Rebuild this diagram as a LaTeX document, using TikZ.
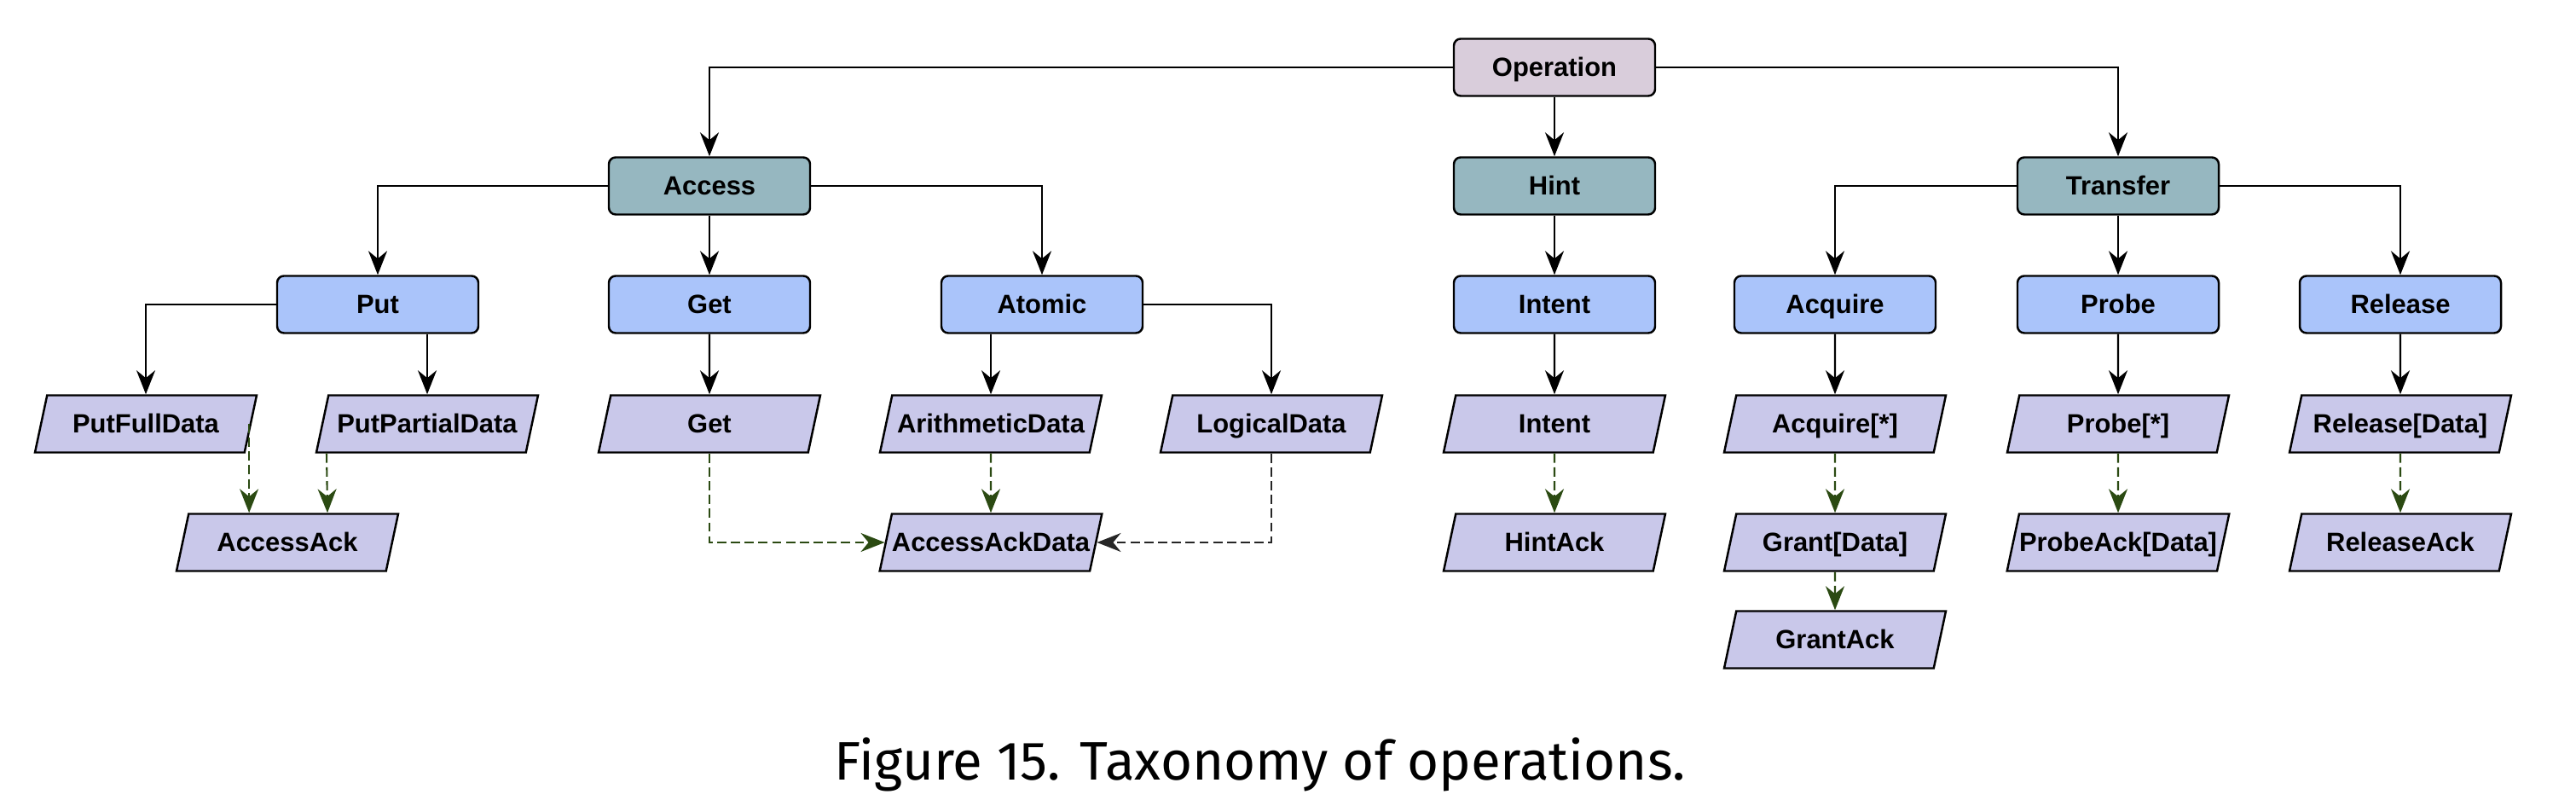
\documentclass[tikz,border=0pt]{standalone}
\usepackage{fontspec}
\usepackage{tikz}
\usetikzlibrary{arrows.meta,shapes.geometric,calc}
\setmainfont{Liberation Sans}
\newfontfamily\capfont{Fira Sans}
\definecolor{OpRoot}{HTML}{D9CDDB}
\definecolor{OpClass}{HTML}{96B7C0}
\definecolor{OpKind}{HTML}{AAC4FA}
\definecolor{OpMsg}{HTML}{C9C8EA}
\definecolor{RespGreen}{HTML}{2B4A12}

\begin{document}
\begin{tikzpicture}[
  every node/.style={font=\fontsize{8.8}{10}\selectfont\bfseries, text height=1.55ex, text depth=0.45ex},
  opbox/.style={draw=black, line width=0.7pt, rounded corners=0.08cm,
    minimum width=2.36cm, minimum height=0.67cm, inner sep=0pt},
  rootbox/.style={opbox, fill=OpRoot},
  classbox/.style={opbox, fill=OpClass},
  kindbox/.style={opbox, fill=OpKind},
  msgbox/.style={draw=black, line width=0.7pt, fill=OpMsg, trapezium,
    trapezium left angle=69, trapezium right angle=111, trapezium stretches body,
    minimum width=2.6cm, minimum height=0.67cm, inner sep=0pt},
  tree/.style={draw=black, line width=0.6pt, -{Stealth[length=2.8mm, width=2.2mm, inset=0.9mm]}},
  resp/.style={draw=RespGreen, line width=0.6pt, dash pattern=on 3.1pt off 1.5pt,
    -{Stealth[length=2.8mm, width=2.2mm, inset=0.9mm]}},
  respdark/.style={resp, draw=black!85},
]
\useasboundingbox (0,0) rectangle (30.21,-9.45);

% ============ root and classes ============
\node[rootbox]  (Operation) at (18.23,-0.79) {Operation};
\node[classbox] (Access)    at (8.32,-2.18)  {Access};
\node[classbox] (Hint)      at (18.23,-2.18) {Hint};
\node[classbox] (Transfer)  at (24.84,-2.18) {Transfer};

\draw[tree] (Operation.west) -| (Access.north);
\draw[tree] (Operation.south) -- (Hint.north);
\draw[tree] (Operation.east) -| (Transfer.north);

% ============ operations ============
\node[kindbox] (Put)     at (4.43,-3.57)  {Put};
\node[kindbox] (Get)     at (8.32,-3.57)  {Get};
\node[kindbox] (Atomic)  at (12.22,-3.57) {Atomic};
\node[kindbox] (Intent)  at (18.23,-3.57) {Intent};
\node[kindbox] (Acquire) at (21.52,-3.57) {Acquire};
\node[kindbox] (Probe)   at (24.84,-3.57) {Probe};
\node[kindbox] (Release) at (28.15,-3.57) {Release};

\draw[tree] (Access.west) -| (Put.north);
\draw[tree] (Access.south) -- (Get.north);
\draw[tree] (Access.east) -| (Atomic.north);
\draw[tree] (Hint.south) -- (Intent.north);
\draw[tree] (Transfer.west) -| (Acquire.north);
\draw[tree] (Transfer.south) -- (Probe.north);
\draw[tree] (Transfer.east) -| (Release.north);

% ============ request messages ============
\node[msgbox] (PutFullData)    at (1.71,-4.97)  {PutFullData};
\node[msgbox] (PutPartialData) at (5.01,-4.97)  {PutPartialData};
\node[msgbox] (GetMsg)         at (8.32,-4.97)  {Get};
\node[msgbox] (ArithmeticData) at (11.62,-4.97) {ArithmeticData};
\node[msgbox] (LogicalData)    at (14.91,-4.97) {LogicalData};
\node[msgbox] (IntentMsg)      at (18.23,-4.97) {Intent};
\node[msgbox] (AcquireMsg)     at (21.52,-4.97) {Acquire[*]};
\node[msgbox] (ProbeMsg)       at (24.84,-4.97) {Probe[*]};
\node[msgbox] (ReleaseMsg)     at (28.15,-4.97) {Release[Data]};

\draw[tree] (Put.west) -| (PutFullData.north);
\draw[tree] (Put.south -| PutPartialData.north) -- (PutPartialData.north);
\draw[tree] (Get.south) -- (GetMsg.north);
\draw[tree] (Atomic.south -| ArithmeticData.north) -- (ArithmeticData.north);
\draw[tree] (Atomic.east) -| (LogicalData.north);
\draw[tree] (Intent.south) -- (IntentMsg.north);
\draw[tree] (Acquire.south) -- (AcquireMsg.north);
\draw[tree] (Probe.south) -- (ProbeMsg.north);
\draw[tree] (Release.south) -- (ReleaseMsg.north);

% ============ responses ============
\node[msgbox] (AccessAck)     at (3.37,-6.36)  {AccessAck};
\node[msgbox] (AccessAckData) at (11.62,-6.36) {AccessAckData};
\node[msgbox] (HintAck)       at (18.23,-6.36) {HintAck};
\node[msgbox] (GrantData)     at (21.52,-6.36) {Grant[Data]};
\node[msgbox] (ProbeAckData)  at (24.84,-6.36) {ProbeAck[Data]};
\node[msgbox] (ReleaseAck)    at (28.15,-6.36) {ReleaseAck};
\node[msgbox] (GrantAck)      at (21.52,-7.50) {GrantAck};

\draw[resp] ([xshift=-0.03cm]PutFullData.east) -- ([xshift=-0.03cm]PutFullData.east |- AccessAck.north);
\draw[resp] ([xshift=-1.18cm]PutPartialData.south) -- ([xshift=0.47cm]AccessAck.north);
\draw[resp] (GetMsg.south) |- (AccessAckData.west);
\draw[resp] (ArithmeticData.south) -- (AccessAckData.north);
\draw[respdark] (LogicalData.south) |- (AccessAckData.east);
\draw[resp] (IntentMsg.south) -- (HintAck.north);
\draw[resp] (AcquireMsg.south) -- (GrantData.north);
\draw[resp] (GrantData.south) -- (GrantAck.north);
\draw[resp] (ProbeMsg.south) -- (ProbeAckData.north);
\draw[resp] (ReleaseMsg.south) -- (ReleaseAck.north);

% caption
\node[font=\capfont\fontsize{18.1}{22}\selectfont, text height=, text depth=, anchor=base] (caption)
  at (14.78,-9.15) {Figure 15. Taxonomy of operations.};
\end{tikzpicture}
\end{document}
